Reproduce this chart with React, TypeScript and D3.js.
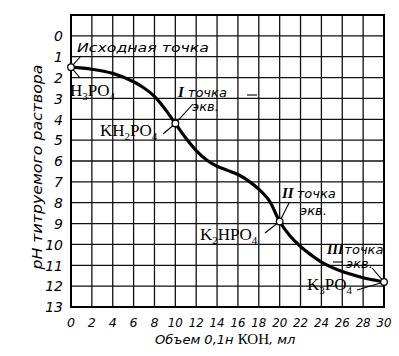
import React from "react";
import * as d3 from "d3";

const volume = [0, 2, 4, 6, 7, 8, 9, 10, 11, 12, 13, 14, 15, 16, 17, 18, 19, 20, 21, 22, 23, 24, 25, 26, 27, 28, 29, 30];
const ph = [1.5, 1.6, 1.8, 2.2, 2.5, 2.9, 3.5, 4.2, 4.9, 5.5, 5.95, 6.25, 6.45, 6.65, 6.95, 7.35, 7.9, 8.9, 9.6, 10.1, 10.5, 10.85, 11.1, 11.3, 11.45, 11.6, 11.7, 11.8];
const xTicks = [0, 2, 4, 6, 8, 10, 12, 14, 16, 18, 20, 22, 24, 26, 28, 30];
const yTicks = [0, 1, 2, 3, 4, 5, 6, 7, 8, 9, 10, 11, 12, 13];
const markedVolume = [0, 10, 20, 30];
const markedPh = [1.5, 4.2, 8.9, 11.8];

const W = 399;
const H = 356;
const ital = "'DejaVu Sans', sans-serif";
const serif = "'Liberation Serif', 'DejaVu Serif', serif";

export default function App() {
  const x = d3.scaleLinear().domain([0, 30]).range([71, 384]);
  const y = d3.scaleLinear().domain([-1, 13]).range([15, 307]);
  const line = d3
    .line<number>()
    .x((_, i) => x(volume[i]))
    .y((d) => y(d))
    .curve(d3.curveCatmullRom.alpha(0.5));
  const hGrid = d3.range(-1, 14);

  const sub = (s: string) => (
    <tspan dy={4} fontSize={11}>{s}</tspan>
  );
  const up = <tspan dy={-4}></tspan>;

  return (
    <svg width={W} height={H} style={{ position: "absolute", left: 0, top: 0, background: "#fff" }}>
      {/* grid */}
      {xTicks.map((t) => (
        <line key={"v" + t} x1={x(t)} x2={x(t)} y1={y(-1)} y2={y(13)} stroke="#111" strokeWidth={1.3} />
      ))}
      {hGrid.map((t) => (
        <line key={"h" + t} x1={x(0)} x2={x(30)} y1={y(t)} y2={y(t)} stroke="#111" strokeWidth={1.3} />
      ))}
      <rect x={x(0)} y={y(-1)} width={x(30) - x(0)} height={y(13) - y(-1)} fill="none" stroke="#000" strokeWidth={2} />

      {/* tick labels */}
      {yTicks.map((t) => (
        <text key={"yt" + t} x={63} y={y(t)} dy="0.38em" textAnchor="end" fontFamily={ital} fontStyle="italic" fontSize={14} fill="#000">
          {t}
        </text>
      ))}
      {xTicks.map((t) => (
        <text key={"xt" + t} x={x(t)} y={327} textAnchor="middle" fontFamily={ital} fontStyle="italic" fontSize={13} fill="#000" textLength={t >= 10 ? 15 : 8} lengthAdjust="spacingAndGlyphs">
          {t}
        </text>
      ))}

      {/* axis titles */}
      <text transform="translate(42,167) rotate(-90)" textAnchor="middle" fontFamily={ital} fontStyle="italic" fontSize={14} fill="#000" textLength={205} lengthAdjust="spacingAndGlyphs">
        рН титруемого раствора
      </text>
      <text x={155} y={344} fontFamily={ital} fontStyle="italic" fontSize={13} fill="#000">
        <tspan>Объем 0,1н </tspan>
        <tspan fontFamily={serif} fontStyle="normal" fontSize={15}>КОН</tspan>
        <tspan>, мл</tspan>
      </text>

      {/* curve */}
      <path d={line(ph) || ""} fill="none" stroke="#000" strokeWidth={3.2} />

      {/* leader lines */}
      <g stroke="#000" strokeWidth={1.1}>
        <line x1={x(0)} y1={y(1.5)} x2={81} y2={56} />
        <line x1={x(0)} y1={y(1.5)} x2={80} y2={78} />
        <line x1={x(10)} y1={y(4.2)} x2={193} y2={104} />
        <line x1={247} y1={95} x2={257} y2={95} />
        <line x1={163} y1={134} x2={x(10)} y2={y(4.2)} />
        <line x1={x(20)} y1={y(8.9)} x2={289} y2={203} />
        <line x1={265} y1={233} x2={x(20)} y2={y(8.9)} />
        <line x1={333} y1={262} x2={343} y2={262} />
        <line x1={372} y1={268} x2={x(30)} y2={y(11.8)} />
        <line x1={357} y1={290} x2={x(30)} y2={y(11.8)} />
      </g>

      {/* marked points */}
      {markedVolume.map((v, i) => (
        <circle key={"c" + v} cx={x(v)} cy={y(markedPh[i])} r={3.3} fill="#fff" stroke="#000" strokeWidth={1.3} />
      ))}

      {/* annotations */}
      <g fontFamily={ital} fontStyle="italic" fontSize={13} fill="#000">
        <text x={77} y={52} textLength={132} lengthAdjust="spacingAndGlyphs">Исходная точка</text>
        <text x={178} y={97}>
          <tspan fontFamily={serif} fontWeight="bold" fontSize={15}>I</tspan>
          <tspan dx={4}>точка</tspan>
        </text>
        <text x={192} y={111}>экв.</text>
        <text x={282} y={198}>
          <tspan fontFamily={serif} fontWeight="bold" fontSize={15}>II</tspan>
          <tspan dx={3}>точка</tspan>
        </text>
        <text x={300} y={215}>экв.</text>
        <text x={327} y={254}>
          <tspan fontFamily={serif} fontWeight="bold" fontSize={14}>III</tspan>
          <tspan dx={1}>точка</tspan>
        </text>
        <text x={346} y={268}>экв.</text>
      </g>
      <g fontFamily={serif} fontSize={17} fill="#000">
        <text x={70} y={96}>
          H{sub("3")}<tspan dy={-4}>PO</tspan>{sub("4")}
        </text>
        <text x={100} y={136}>
          KH{sub("2")}<tspan dy={-4}>PO</tspan>{sub("4")}
        </text>
        <text x={200} y={240}>
          K{sub("2")}<tspan dy={-4}>HPO</tspan>{sub("4")}
        </text>
        <text x={307} y={290}>
          K{sub("3")}<tspan dy={-4}>PO</tspan>{sub("4")}
        </text>
      </g>
    </svg>
  );
}
